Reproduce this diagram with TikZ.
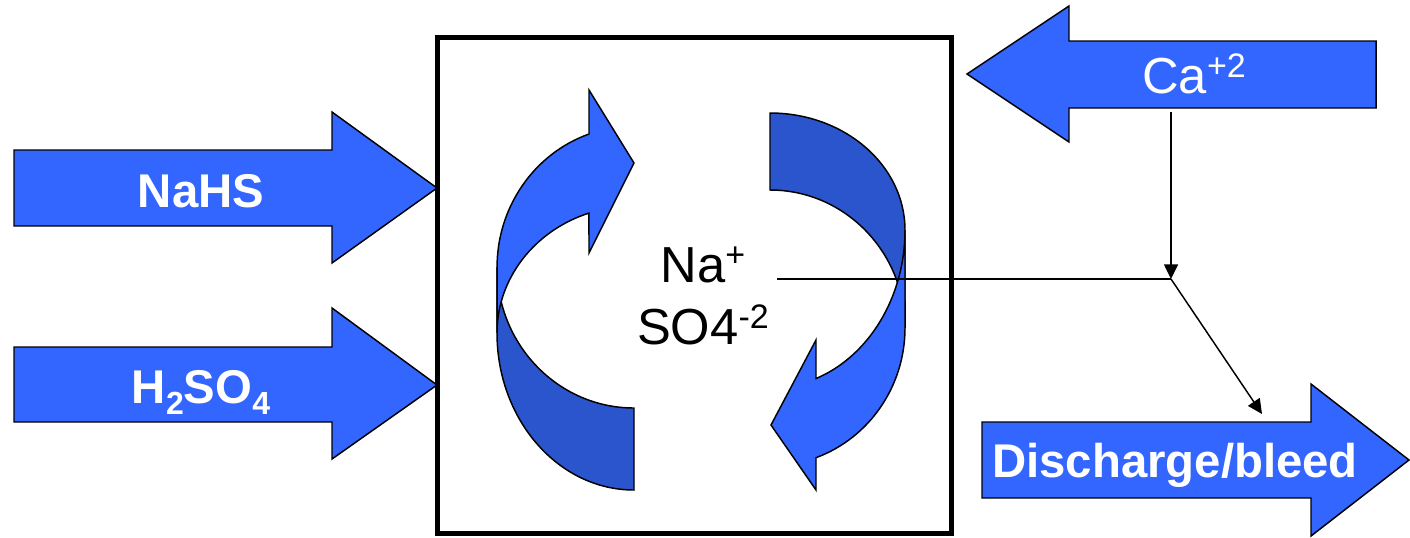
\documentclass[tikz,border=0pt]{standalone}
\usepackage{fontspec}
\setmainfont{Liberation Sans}
\usetikzlibrary{arrows.meta}
\definecolor{lightblue}{RGB}{51,102,255}
\definecolor{darkblue}{RGB}{43,85,204}
\newcommand\upx[2]{\raisebox{#1}{\fontsize{#2}{#2}\selectfont}}
\tikzset{
  blockarrow/.style={fill=lightblue,draw=black,line width=1.1pt,line join=miter},
  backband/.style={fill=darkblue,draw=black,line width=1.1pt,line join=miter},
  frontband/.style={fill=lightblue,draw=black,line width=1.1pt,line join=miter},
  boldlabel/.style={text=white,font=\fontsize{35.5}{40}\selectfont\bfseries,inner sep=0pt,anchor=base},
  reglabel/.style={font=\fontsize{38}{42}\selectfont,inner sep=0pt,anchor=base},
  conn/.style={draw=black,line width=1.1pt},
  tip/.style={-{Triangle[length=11pt,width=10.5pt]}}
}
\begin{document}
\begin{tikzpicture}[x=0.75pt,y=-0.75pt]
\useasboundingbox (0,0) rectangle (1410,537);
% reactor box
\draw[line width=3.75pt] (437,37) rectangle (951,533);
% inlet arrows
\draw[blockarrow] (14,150) -- (332,150) -- (332,112) -- (437,188) -- (332,263) -- (332,226) -- (14,226) -- cycle;
\node[boldlabel] (nahs) at (201,207) {NaHS};
\draw[blockarrow] (14,347) -- (332,347) -- (332,308) -- (437,385) -- (332,459) -- (332,422) -- (14,422) -- cycle;
\node[boldlabel] (h2so4) at (201,403) {H\raisebox{-8.9pt}{\fontsize{24}{24}\selectfont 2}SO\raisebox{-8.9pt}{\fontsize{24}{24}\selectfont 4}};
% Ca arrow
\draw[blockarrow] (1376,41) -- (1069,41) -- (1069,6) -- (967,74) -- (1069,142) -- (1069,108) -- (1376,108) -- cycle;
\node[reglabel,text=white] (ca) at (1194,93) {Ca\raisebox{11.4pt}{\fontsize{25.5}{25.5}\selectfont +2}};
% discharge arrow
\draw[blockarrow] (982,422) -- (1311,422) -- (1311,384) -- (1409,460) -- (1311,536) -- (1311,498) -- (982,498) -- cycle;
\node[boldlabel] (bleed) at (1175,477) {Discharge/bleed};
% left curved arrow
\draw[backband] (634,490) arc[start angle=270,end angle=180,x radius=102.75pt,y radius=117.75pt]
  -- (497,267) arc[start angle=180,end angle=270,x radius=102.75pt,y radius=105.75pt] -- cycle;
\draw[frontband] (497,333) arc[start angle=180,end angle=109.2,x radius=102.75pt,y radius=95.25pt]
  -- (589,253) -- (634,163) -- (589,90) -- (589,134)
  arc[start angle=109.2,end angle=180,x radius=102.75pt,y radius=105.75pt] -- cycle;
% right curved arrow
\draw[backband] (770,113) arc[start angle=90,end angle=0,x radius=101.25pt,y radius=87.75pt]
  -- (905,328) arc[start angle=0,end angle=90,x radius=101.25pt,y radius=103.5pt] -- cycle;
\draw[frontband] (905,230) arc[start angle=0,end angle=-70.08,x radius=101.25pt,y radius=118.5pt]
  -- (816,340) -- (771,425) -- (816,490) -- (816,457.7)
  arc[start angle=-70.08,end angle=0,x radius=101.25pt,y radius=103.5pt] -- cycle;
% ions
\node[reglabel] (na) at (703,282) {Na\raisebox{11.4pt}{\fontsize{25.5}{25.5}\selectfont +}};
\node[reglabel] (so4) at (703,344) {SO4\raisebox{11.4pt}{\fontsize{25.5}{25.5}\selectfont -2}};
% connectors
\coordinate (ionout) at (777,279);
\coordinate (junction) at (1171,279);
\coordinate (caout) at (1171,112);
\coordinate (bleedin) at (1262,414);
\draw[conn] (ionout) -- (junction);
\draw[conn,tip] (caout) -- (junction);
\draw[conn,tip] (junction) -- (bleedin);
\end{tikzpicture}
\end{document}
